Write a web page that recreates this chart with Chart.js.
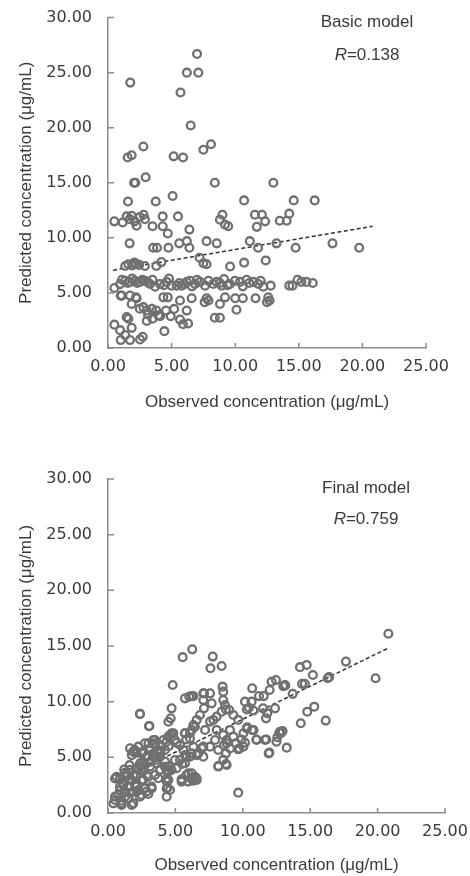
<!DOCTYPE html>
<html>
<head>
<meta charset="utf-8">
<script src="https://cdn.jsdelivr.net/npm/chart.js@4.4.1/dist/chart.umd.min.js"></script>
<style>
	html, body { margin:0; padding:0; background:#fff; }
	#wrap { position:relative; width:470px; height:876px; }
	canvas { position:absolute; left:0; }
</style>
</head>
<body>
<div id="wrap">
	<canvas id="basicChart" width="470" height="430" style="top:0"></canvas>
	<canvas id="finalChart" width="470" height="446" style="top:430px"></canvas>
</div>
<script>
// axis ticks
const xTicks = [0, 5, 10, 15, 20, 25];
const yTicks = [0, 5, 10, 15, 20, 25, 30];

// Basic model: observed (x) vs predicted (y), ug/mL
const basicObs = [
	1.75, 7.0, 6.2, 7.1, 5.7, 6.5, 1.55, 1.86, 2.78, 5.16, 5.9, 7.5, 8.1, 2.05, 2.15, 2.96, 5.08, 8.4, 13.0, 1.57, 3.75, 10.7, 14.6, 16.25,
	0.5, 1.15, 1.47, 1.86, 2.1, 2.25, 2.5, 2.8, 2.9, 1.7, 3.5, 4.3, 4.3, 4.7, 5.5, 6.4, 8.8, 9.0, 9.2, 9.45, 11.55, 12.1, 11.7, 12.35, 13.5, 14.05, 14.25,
	1.7, 3.55, 3.85, 4.75, 5.6, 6.2, 6.4, 7.75, 8.55, 11.15, 11.8, 13.25, 14.75, 17.65, 19.75,
	1.35, 1.6, 2.07, 2.45, 2.9, 3.8, 4.2, 7.2, 7.5, 7.75, 9.6, 10.7, 12.4, 1.9, 2.2,
	0.5, 0.95, 1.35, 1.73, 2.12, 2.52, 2.91, 3.3, 3.7, 4.09, 4.61, 5.0, 5.4, 5.79, 6.19, 6.45, 6.84, 7.23, 7.63, 8.28, 8.54, 8.94, 9.12, 9.59, 9.98, 10.38, 10.9, 11.43, 11.82, 12.21, 12.79, 14.25, 14.5, 15.2, 16.1,
	1.1, 1.55, 1.9, 2.3, 2.7, 3.1, 3.5, 4.4, 4.8, 5.6, 6.0, 6.6, 7.0, 7.9, 8.8, 9.4, 10.6, 11.1, 12.0, 14.9, 15.6,
	1.0, 1.73, 2.25, 1.86, 4.35, 4.7, 5.66, 6.58, 7.75, 7.9, 7.6, 8.8, 9.2, 10.0, 10.6, 11.6, 12.6, 12.7, 12.5,
	2.78, 3.05, 3.45, 3.8, 3.15, 3.5, 3.05, 4.1, 4.56, 4.93, 5.2, 6.19, 5.66, 5.9, 6.3, 4.43, 10.1, 8.4, 8.8, 1.6, 1.47,
	0.5, 0.95, 1.86, 1.35, 1.0, 1.73, 2.52, 2.73, 3.96, 2.5, 1.08, 2.2
];
const basicPred = [
	24.1, 26.7, 25.0, 25.0, 23.2, 20.2, 17.3, 17.5, 18.3, 17.4, 17.3, 18.0, 18.5, 15.0, 15.0, 15.5, 13.8, 15.0, 15.0, 13.3, 13.3, 13.4, 13.4, 13.4,
	11.5, 11.4, 11.95, 12.0, 11.5, 11.1, 11.9, 12.1, 11.7, 11.7, 11.05, 11.95, 11.05, 10.4, 11.95, 10.75, 11.65, 12.1, 11.2, 11.05, 12.1, 12.1, 11.0, 11.5, 11.55, 11.55, 12.2,
	9.5, 9.1, 9.1, 9.1, 9.5, 9.7, 9.1, 9.7, 9.5, 9.7, 9.1, 9.5, 9.1, 9.5, 9.1,
	7.45, 7.6, 7.75, 7.55, 7.45, 7.45, 7.8, 8.2, 7.7, 7.6, 7.4, 7.75, 7.95, 7.5, 7.65,
	5.45, 5.8, 6.1, 6.0, 6.11, 6.0, 6.11, 5.81, 5.57, 5.81, 6.0, 5.66, 5.66, 5.66, 6.0, 6.11, 5.81, 6.0, 5.66, 5.81, 6.0, 5.66, 6.26, 5.81, 6.11, 6.0, 6.2, 6.0, 5.81, 5.57, 5.66, 5.66, 5.66, 6.0, 5.9,
	6.2, 5.9, 6.3, 5.9, 6.2, 6.0, 6.2, 5.7, 6.3, 5.9, 5.8, 5.6, 6.2, 6.1, 5.9, 5.7, 5.6, 5.9, 6.1, 6.2, 6.0,
	4.76, 4.76, 4.52, 4.0, 4.6, 4.6, 4.31, 4.52, 4.52, 4.31, 4.16, 4.0, 4.6, 4.52, 4.52, 4.52, 4.6, 4.31, 4.16,
	3.71, 3.4, 3.55, 3.4, 3.05, 2.66, 2.46, 2.88, 3.4, 2.88, 3.55, 3.4, 2.58, 2.16, 2.22, 1.53, 3.47, 2.75, 2.75, 2.66, 2.8,
	2.12, 1.62, 1.83, 1.17, 0.72, 0.72, 0.78, 1.02, 2.96, 3.56, 4.76, 4.6
];
const basicFitX = [0.4, 20.8];
const basicFitY = [7.07, 11.05];

// Final model
const finalObs = [
	20.8, 6.25, 5.54, 7.77, 17.65, 14.4, 7.6, 8.43, 14.24, 14.74, 15.2, 16.3, 16.4, 19.85,
	14.6, 13.0, 13.15, 13.7, 15.3, 14.78, 14.3, 16.15, 12.85, 12.95, 13.26,
	10.7, 12.14, 12.46, 13.13, 11.99, 11.55, 11.2, 10.65, 10.16, 10.78, 10.3, 10.45, 11.5, 11.82, 11.72, 12.39, 12.71, 12.56, 11.92, 11.65, 11.03, 10.68, 10.33, 10.04, 10.16, 9.74, 9.49, 9.66, 9.3, 9.0,
	8.55, 8.5, 8.55, 8.68, 7.57, 7.12, 7.07, 7.69, 7.12, 6.82, 6.58, 6.33, 6.21, 6.08, 6.33, 7.07, 7.57, 7.94, 8.06, 8.55, 8.8, 9.05, 9.3, 10.04, 8.75, 8.55, 8.18, 8.8, 9.66,
	7.57, 7.82, 8.06, 8.43, 8.75, 6.21, 6.45, 6.58, 6.08, 6.7, 7.07,
	2.37, 3.07, 4.72, 4.65, 4.48, 6.03, 6.33, 5.71, 0.52, 0.52, 0.4, 1.01, 1.88, 1.51, 1.26, 0.89, 2.13, 2.5, 2.99, 3.23, 2.62, 3.73, 4.35, 4.48, 3.86, 3.12, 2.37, 1.63,
	1.88, 2.0, 2.62, 3.12, 3.49, 3.86, 4.11, 4.48, 4.72, 4.97, 5.34, 5.59, 5.83, 6.2, 5.34, 5.09, 5.47, 5.96, 6.2, 4.6, 4.35, 6.08, 3.36, 2.87, 3.61, 4.23,
	0.89, 1.38, 1.75, 1.13, 1.5, 1.88, 2.25, 2.75, 2.13, 2.5, 2.87, 1.0, 1.25,
	3.0, 3.49, 3.61, 3.86, 2.13, 1.76, 4.35, 4.48, 4.35, 4.43, 5.5, 5.47, 5.8, 6.21, 6.57, 8.18, 8.75, 8.8, 8.6, 8.18, 9.05, 9.67, 11.97, 11.0, 11.74, 12.5, 12.76, 10.8, 10.3, 9.9, 4.8, 5.71, 6.2, 7.07, 2.37, 3.04,
	1.2, 1.6, 2.1, 2.6, 3.3, 3.9, 4.5, 5.1, 5.8, 1.4, 2.4, 3.6,
	0.64, 0.52, 1.01, 1.76, 2.37, 2.87, 3.24, 4.35, 4.48, 5.46, 5.96, 6.33, 5.71, 5.71, 4.97,
	1.63, 1.88, 2.25, 2.5, 2.74, 3.36, 3.49, 4.35, 4.6, 4.85,
	4.23, 3.86, 3.49, 3.12, 2.74, 2.25, 1.88, 1.51, 1.13, 0.89, 0.76,
	1.51, 2.0, 2.5, 2.99, 3.49, 3.86, 4.23, 4.72, 1.26, 1.63, 2.13,
	6.58, 6.95, 7.2, 6.45, 5.71
];
const finalPred = [
	16.1, 14.7, 14.0, 14.05, 13.6, 11.6, 13.0, 13.2, 13.1, 13.3, 12.4, 12.1, 12.2, 12.1,
	11.6, 11.4, 11.45, 10.7, 9.55, 9.1, 8.06, 8.3, 7.2, 7.35, 5.87,
	11.2, 11.8, 11.95, 11.5, 11.05, 10.5, 10.5, 10.0, 10.0, 9.2, 9.3, 9.45, 9.4, 8.96, 8.5, 9.4, 7.2, 6.8, 5.36, 6.57, 6.57, 7.46, 7.7, 7.16, 6.32, 5.8, 6.26, 8.36, 8.8, 9.25,
	10.9, 11.35, 10.15, 9.7, 10.75, 10.75, 10.15, 9.85, 9.4, 8.8, 8.36, 7.9, 7.46, 6.7, 5.96, 5.96, 5.96, 6.56, 7.46, 7.0, 6.56, 7.46, 6.86, 5.96, 5.36, 4.77, 4.17, 4.32, 1.83,
	8.21, 8.36, 8.66, 9.1, 9.3, 3.56, 3.26, 2.97, 5.06, 5.36, 5.06,
	8.9, 7.82, 9.4, 8.5, 8.2, 10.45, 10.5, 7.16, 3.1, 1.47, 0.87, 0.72, 0.87, 1.32, 1.92, 2.37, 2.37, 1.62, 1.71, 2.37, 2.97, 3.12, 2.82, 3.72, 3.87, 4.17, 4.47, 3.87,
	5.51, 5.66, 5.51, 5.81, 6.26, 6.11, 6.56, 6.86, 7.16, 6.56, 6.11, 5.66, 5.06, 5.36, 4.77, 4.02, 2.97, 2.82, 3.12, 2.07, 1.47, 7.16, 5.06, 5.06, 4.47, 4.62,
	3.12, 3.27, 2.97, 2.67, 2.37, 1.92, 2.07, 2.2, 3.42, 3.72, 3.42, 1.1, 3.6,
	6.26, 6.56, 4.76, 5.06, 5.42, 5.2, 3.87, 4.17, 3.1, 2.27, 4.4, 3.03, 3.4, 3.03, 3.12, 4.22, 4.4, 6.26, 6.11, 5.66, 5.8, 5.72, 5.42, 6.6, 6.6, 6.4, 7.3, 7.45, 7.6, 6.6, 11.5, 10.3, 10.5, 10.75, 8.9, 7.8,
	3.9, 4.3, 4.0, 4.6, 5.3, 5.6, 6.0, 6.3, 6.6, 3.5, 4.2, 5.0,
	3.26, 1.17, 0.87, 0.72, 1.47, 1.92, 2.2, 2.2, 2.96, 2.82, 3.56, 2.9, 4.47, 5.2, 4.76,
	5.81, 5.51, 5.96, 5.36, 6.26, 6.56, 6.11, 6.41, 7.0, 7.16,
	5.66, 5.36, 5.06, 4.6, 4.31, 3.86, 3.41, 2.96, 2.52, 2.07, 1.62,
	2.37, 2.52, 2.96, 3.26, 3.41, 3.86, 4.16, 3.86, 1.47, 1.77, 1.92,
	5.2, 5.81, 7.46, 7.75, 7.16
];
const finalFitX = [0.5, 20.85];
const finalFitY = [2.8, 14.85];

const AXIS = '#8c8c8c';
const TEXT = '#3a3a3a';
const MARK = '#707070';
const TICK_FONT = { family: 'DejaVu Sans', size: 16 };
const TITLE_FONT = { family: 'Liberation Sans', size: 17 };

// short tick marks that point into the plot, placed by the scales
const innerTicks = {
	id: 'innerTicks',
	afterDraw(chart) {
		const { ctx, chartArea: a, scales: { x, y } } = chart;
		ctx.save();
		ctx.strokeStyle = AXIS; ctx.lineWidth = 1.5;
		ctx.beginPath();
		x.ticks.forEach(t => { const px = x.getPixelForValue(t.value); ctx.moveTo(px, a.bottom); ctx.lineTo(px, a.bottom - 5); });
		y.ticks.forEach(t => { const py = y.getPixelForValue(t.value); ctx.moveTo(a.left, py); ctx.lineTo(a.left + 6, py); });
		ctx.stroke();
		ctx.restore();
	}
};

// "Basic model / R=0.138" note in the upper right
const modelNote = {
	id: 'modelNote',
	afterDraw(chart, args, o) {
		const { ctx, chartArea: a } = chart;
		const cx = a.left + o.dx;
		const normal = '17px "Liberation Sans"', italic = 'italic 17px "Liberation Sans"';
		ctx.save();
		ctx.fillStyle = TEXT; ctx.textBaseline = 'middle';
		ctx.font = normal; ctx.textAlign = 'center';
		ctx.fillText(o.title, cx, a.top + o.dy1);
		const rest = '=' + o.r;
		ctx.font = italic; const w1 = ctx.measureText('R').width;
		ctx.font = normal; const w2 = ctx.measureText(rest).width;
		const x0 = cx - (w1 + w2) / 2;
		ctx.textAlign = 'left';
		ctx.font = italic; ctx.fillText('R', x0, a.top + o.dy2);
		ctx.font = normal; ctx.fillText(rest, x0 + w1, a.top + o.dy2);
		ctx.restore();
	}
};

function points(xs, ys){ return xs.map((v, i) => ({ x: v, y: ys[i] })); }

function makeChart(id, obs, pred, fitX, fitY, g){
	return new Chart(document.getElementById(id), {
		type: 'scatter',
		data: { datasets: [
			{ data: points(obs, pred), pointStyle: 'circle', pointRadius: 3.9, pointBorderWidth: 2.3, borderColor: MARK, backgroundColor: 'rgba(0,0,0,0)', pointHoverRadius: 3.9 },
			{ type: 'line', data: points(fitX, fitY), showLine: true, pointRadius: 0, borderColor: '#333', borderWidth: 1.5, borderDash: [4, 2.5], fill: false }
		]},
		options: {
			responsive: false, animation: false,
			layout: { padding: { top: g.top, right: g.right, left: 0, bottom: 0 } },
			plugins: { legend: { display: false }, tooltip: { enabled: false }, modelNote: g.note },
			scales: {
				x: {
					type: 'linear', min: 0, max: 25,
					afterBuildTicks: s => { s.ticks = xTicks.map(v => ({ value: v })); },
					afterFit: s => { s.height = g.xh; },
					grid: { display: false }, border: { display: true, color: AXIS, width: 1.5 },
					ticks: { padding: 1, color: TEXT, font: TICK_FONT, maxRotation: 0, callback: v => v.toFixed(2) },
					title: { display: true, text: 'Observed concentration (μg/mL)', color: TEXT, font: TITLE_FONT, padding: { top: 0, bottom: g.xtb } }
				},
				y: {
					type: 'linear', min: 0, max: 30,
					afterBuildTicks: s => { s.ticks = yTicks.map(v => ({ value: v })); },
					afterFit: s => { s.width = 108; },
					grid: { display: false }, border: { display: true, color: AXIS, width: 1.5 },
					ticks: { padding: 8, color: TEXT, font: TICK_FONT, callback: v => v.toFixed(2) },
					title: { display: true, text: 'Predicted concentration (μg/mL)', color: TEXT, font: TITLE_FONT, padding: { top: 16, bottom: 0 } }
				}
			}
		},
		plugins: [innerTicks, modelNote]
	});
}

makeChart('basicChart', basicObs, basicPred, basicFitX, basicFitY,
	{ top: 14, right: 44, xh: 82, xtb: 17, note: { title: 'Basic model', r: '0.138', dx: 259, dy1: 5, dy2: 38 } });
makeChart('finalChart', finalObs, finalPred, finalFitX, finalFitY,
	{ top: 49, right: 25, xh: 63, xtb: 0, note: { title: 'Final model', r: '0.759', dx: 258, dy1: 9, dy2: 40 } });
</script>
</body>
</html>
